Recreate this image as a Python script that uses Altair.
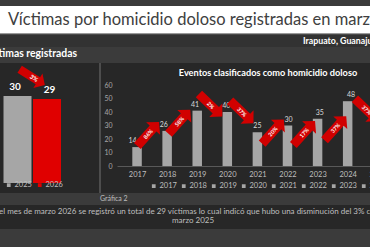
import altair as alt
import pandas as pd

FONT = "Lato"

# Victims registered in March, previous year vs current year
victim_years = [2025, 2026]
victim_counts = [30, 29]
victim_change = "3%"

# Events classified as intentional homicide (March of each year)
event_years = [2017, 2018, 2019, 2020, 2021, 2022, 2023, 2024, 2025]
event_counts = [14, 26, 41, 40, 25, 30, 35, 48, 30]
event_changes = ["86%", "58%", "2%", "37%", "20%", "17%", "37%", "37%"]

title_text = "Víctimas por homicidio doloso registradas en marzo"
place_text = "Irapuato, Guanajuato"
left_title = "Víctimas registradas"
right_title = "Eventos clasificados como homicidio doloso"
figure_label = "Gráfica 2"
note_line1 = ("En el mes de marzo 2026 se registró un total de 29 víctimas lo cual "
              "indicó que hubo una disminución del 3% con respecto a")
note_line2 = "marzo 2025"

# ---- colours ---------------------------------------------------------------
PANEL = "#272727"
BAND = "#3b3b3b"
BAND_DARK = "#323232"
GREY_BAR = "#a6a6a6"
RED_BAR = "#e00000"
RED_ARROW = "#d10000"
LIGHT_TXT = "#bfbfbf"

# Fat arrow pointing right, drawn in the [-1, 1] symbol box
ARROW = "M-1,-0.28 L0.45,-0.28 L0.45,-0.58 L1,0 L0.45,0.58 L0.45,0.28 L-1,0.28 Z"

one = pd.DataFrame({"k": [0]})


def band(x0, x1, y0, y1, color):
    return alt.Chart(one).mark_rect(color=color).encode(
        x=alt.value(x0), x2=alt.value(x1), y=alt.value(y0), y2=alt.value(y1))


def label(txt, x, y, size, color, weight="normal", align="left"):
    return alt.Chart(one).mark_text(
        text=txt, align=align, baseline="middle", font=FONT, fontSize=size,
        fontWeight=weight, color=color).encode(x=alt.value(x), y=alt.value(y))


# ---- frame -----------------------------------------------------------------
frame = [
    band(0, 370, 0, 6, BAND),
    band(0, 370, 6, 33, "#ffffff"),
    band(0, 370, 33, 34.5, "#9a9a9a"),
    band(0, 370, 34.5, 47, BAND_DARK),
    band(0, 370, 47, 63, BAND),
    band(99, 101, 63, 193, "#4d4d4d"),
    band(0, 370, 193, 205, BAND),
    band(0, 370, 229, 247, BAND),
    label(title_text, 8, 20, 16.5, "#404040"),
    label(place_text, 303, 41, 8.8, "#ffffff", "bold"),
    label(left_title, 77, 54, 10.4, "#ffffff", "bold", "right"),
    label(right_title, 268, 73, 9.2, "#ffffff", "bold", "center"),
    label(figure_label, 100, 199, 7, LIGHT_TXT),
    label(note_line1, -12, 212, 8, LIGHT_TXT),
    label(note_line2, 193, 221, 8, LIGHT_TXT, align="center"),
]

# ---- left panel: victims ---------------------------------------------------
left_df = pd.DataFrame({
    "year": victim_years,
    "year_label": [str(y) for y in victim_years],
    "count": victim_counts,
})
xl = alt.Scale(domain=[2024.5, 2026.5], range=[-2.25, 66.75], nice=False, zero=False)
yl = alt.Scale(domain=[0, 30], range=[183, 96], nice=False)

left_bars = alt.Chart(left_df).mark_bar(orient="vertical", size=28).encode(
    x=alt.X("year:Q", scale=xl, axis=None),
    y=alt.Y("count:Q", scale=yl, axis=None),
    color=alt.Color(
        "year_label:N",
        scale=alt.Scale(domain=[str(y) for y in victim_years], range=[GREY_BAR, RED_BAR]),
        legend=alt.Legend(
            orient="none", legendX=5, legendY=181, direction="horizontal", title=None,
            symbolType="square", symbolSize=14, symbolStrokeWidth=0, labelFont=FONT,
            labelFontSize=7.5, labelColor=LIGHT_TXT, labelOffset=2, columnPadding=4),
    ),
)
left_vals = alt.Chart(left_df).mark_text(
    baseline="bottom", dy=-4, font=FONT, fontSize=10, fontWeight="bold", color="#ffffff"
).encode(
    x=alt.X("year:Q", scale=xl, axis=None),
    y=alt.Y("count:Q", scale=yl, axis=None),
    text="count:Q",
)

left_arrow_df = pd.DataFrame({
    "x": [sum(victim_years) / 2],
    "y": [max(victim_counts) + 6.5],
    "label": [victim_change],
    "angle": [32 if victim_counts[1] < victim_counts[0] else 328],
})
left_arrow = alt.Chart(left_arrow_df).mark_point(
    shape=ARROW, size=880, filled=True, opacity=1, color=RED_ARROW, strokeWidth=0, dx=4
).encode(
    x=alt.X("x:Q", scale=xl, axis=None),
    y=alt.Y("y:Q", scale=yl, axis=None),
    angle=alt.Angle("angle:Q", scale=None),
)
left_arrow_txt = alt.Chart(left_arrow_df).mark_text(
    font=FONT, fontSize=6, fontWeight="bold", color="#ffffff", dx=2
).encode(
    x=alt.X("x:Q", scale=xl, axis=None),
    y=alt.Y("y:Q", scale=yl, axis=None),
    text="label:N",
    angle=alt.Angle("angle:Q", scale=None),
)

# ---- right panel: events ---------------------------------------------------
right_df = pd.DataFrame({
    "year": event_years,
    "year_label": [str(y) for y in event_years],
    "count": event_counts,
})
xr = alt.Scale(domain=[2016.5, 2025.5], range=[117, 397.8], nice=False, zero=False)
yr = alt.Scale(domain=[0, 60], range=[166, 85], nice=False)

right_bars = alt.Chart(right_df).mark_bar(orient="vertical", size=9.5).encode(
    x=alt.X("year:Q", scale=xr, axis=alt.Axis(
        orient="bottom", offset=-81, values=event_years, format="d", title=None,
        ticks=False, grid=False, domainColor="#595959", domainWidth=1,
        labelColor=LIGHT_TXT, labelFont=FONT, labelFontSize=7.5, labelPadding=4,
        labelFlush=False, labelOverlap=False)),
    y=alt.Y("count:Q", scale=yr, axis=alt.Axis(
        orient="left", offset=-117, values=[0, 10, 20, 30, 40, 50, 60], title=None,
        domain=False, ticks=False, grid=False, labelColor="#a6a6a6", labelFont=FONT,
        labelFontSize=7, labelPadding=5)),
    color=alt.Color(
        "year_label:N",
        scale=alt.Scale(domain=[str(y) for y in event_years], range=[GREY_BAR] * len(event_years)),
        legend=alt.Legend(
            orient="none", legendX=150, legendY=182, direction="horizontal", title=None,
            columns=len(event_years), symbolType="square", symbolSize=14,
            symbolStrokeWidth=0, labelFont=FONT, labelFontSize=7.5, labelColor=LIGHT_TXT,
            labelOffset=2, columnPadding=3),
    ),
)
right_vals = alt.Chart(right_df).mark_text(
    baseline="bottom", dy=-3, font=FONT, fontSize=7, color="#d9d9d9"
).encode(
    x=alt.X("year:Q", scale=xr, axis=None),
    y=alt.Y("count:Q", scale=yr, axis=None),
    text="count:Q",
)

# Arrow placement, as a shift from the midpoint of the two bars it joins
arrow_shift = [3.7, -0.7, 4.5, 7.5, -2, -8, -13.5, 2.5]
arrows = []
for i, lab in enumerate(event_changes):
    a, b = event_counts[i], event_counts[i + 1]
    arrows.append({
        "x": event_years[i] + 0.5,
        "y": (a + b) / 2 + arrow_shift[i],
        "label": lab,
        "angle": 312 if b > a else 44,
    })
arrow_df = pd.DataFrame(arrows)

right_arrows = alt.Chart(arrow_df).mark_point(
    shape=ARROW, size=1050, filled=True, opacity=1, color=RED_ARROW, strokeWidth=0
).encode(
    x=alt.X("x:Q", scale=xr, axis=None),
    y=alt.Y("y:Q", scale=yr, axis=None),
    angle=alt.Angle("angle:Q", scale=None),
)
right_arrow_txt = alt.Chart(arrow_df).mark_text(
    font=FONT, fontSize=5.5, fontWeight="bold", color="#ffffff"
).encode(
    x=alt.X("x:Q", scale=xr, axis=None),
    y=alt.Y("y:Q", scale=yr, axis=None),
    text="label:N",
    angle=alt.Angle("angle:Q", scale=None),
)

chart = alt.layer(
    *frame,
    left_bars, left_vals, left_arrow, left_arrow_txt,
    right_bars, right_vals, right_arrows, right_arrow_txt,
).resolve_scale(
    x="independent", y="independent", color="independent"
).properties(
    width=370, height=247, padding=0, autosize="none", background=PANEL
).configure_view(strokeWidth=0)

chart.save("out.html", embed_options={"renderer": "svg", "actions": False})
